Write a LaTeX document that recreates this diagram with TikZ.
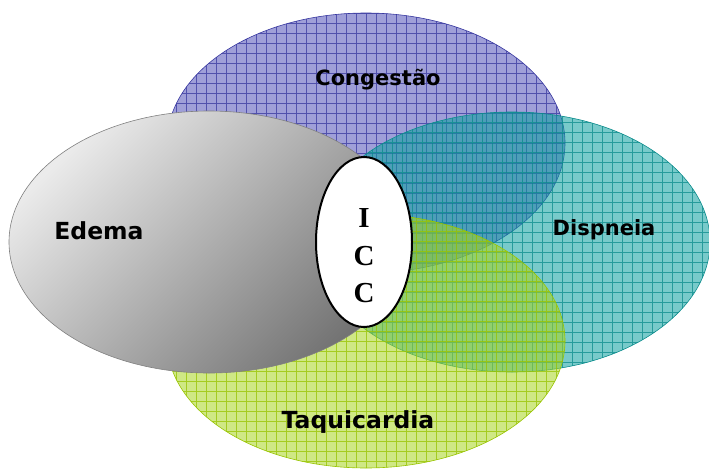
\documentclass[tikz,border=0pt]{standalone}
\usepackage{fontspec}
\usetikzlibrary{shapes.geometric}
\newfontfamily\labfont{DejaVu Sans}
\newfontfamily\iccfont{Liberation Serif}
\definecolor{purpF}{HTML}{5050B8}
\definecolor{purpL}{HTML}{3838A0}
\definecolor{tealF}{HTML}{0A9E9E}
\definecolor{tealL}{HTML}{0A8C8C}
\definecolor{yelF}{HTML}{A8D520}
\definecolor{yelL}{HTML}{98C400}
\definecolor{grayA}{HTML}{EBEBEB}
\definecolor{grayB}{HTML}{727272}
\begin{document}
\begin{tikzpicture}[x=1pt,y=-1pt,
  vennshape/.style={ellipse, inner sep=0pt, outer sep=0pt},
  gridfill/.style 2 args={fill=#1, fill opacity=0.55, draw=#2, line width=0.6pt,
    path picture={\draw[#2, line width=0.5pt, draw opacity=0.75]
      (path picture bounding box.north west) grid[step=10pt] (path picture bounding box.south east);}},
  lab/.style={font=\labfont\bfseries\fontsize{21}{25}\selectfont, anchor=base, inner sep=0pt},
  labbig/.style={font=\labfont\bfseries\fontsize{23.5}{28}\selectfont, anchor=base, inner sep=0pt},
  icclet/.style={font=\iccfont\bfseries\fontsize{29}{35}\selectfont, anchor=base, inner sep=0pt}]
\useasboundingbox (0,0) rectangle (709,469);
\node[vennshape, gridfill={purpF}{purpL}, minimum width=398pt, minimum height=260pt] (cong) at (366,143) {};
\node[vennshape, gridfill={tealF}{tealL}, minimum width=396pt, minimum height=260pt] (disp) at (512,242) {};
\node[vennshape, gridfill={yelF}{yelL}, minimum width=398pt, minimum height=254pt] (taqui) at (366,341) {};
\node[vennshape, top color=grayA, bottom color=grayB, shading angle=45, draw=gray, line width=0.6pt, minimum width=400pt, minimum height=262pt] (edema) at (209,242) {};
\node[vennshape, draw=black, line width=2pt, fill=white, minimum width=96pt, minimum height=170pt] (icc) at (364,242) {};
\node[icclet] (i1) at (364,227) {I};
\node[icclet] (c1) at (364,265) {C};
\node[icclet] (c2) at (364,302) {C};
\node[lab] (tcong) at (378,85) {Congestão};
\node[labbig] (tedema) at (99,239) {Edema};
\node[lab] (tdisp) at (604,235) {Dispneia};
\node[labbig] (ttaqui) at (358,428) {Taquicardia};
\end{tikzpicture}
\end{document}
